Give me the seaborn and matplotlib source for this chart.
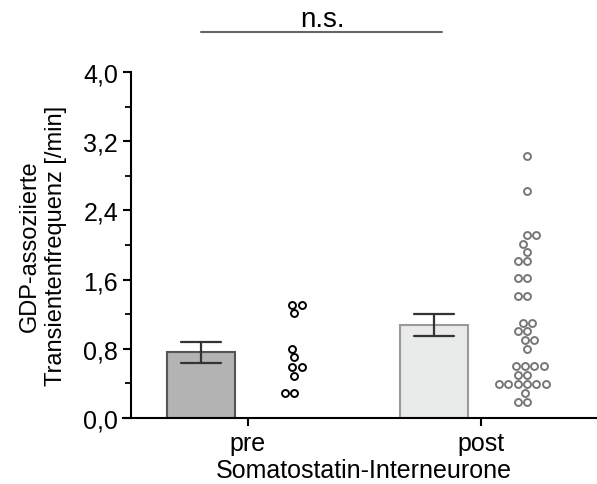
import numpy as np
import pandas as pd
import matplotlib
matplotlib.use('Agg')
import matplotlib.pyplot as plt
import seaborn as sns

# Values
groups = ['pre', 'post']
pre_values = [1.31, 1.21, 1.31, 0.70, 0.80, 0.59, 0.59, 0.49, 0.29, 0.29]
post_values = [3.03, 2.62, 2.11, 2.11, 2.01, 1.92, 1.81, 1.81, 1.62, 1.62,
               1.41, 1.41, 1.10, 1.10, 1.01, 1.01, 0.90, 0.90, 0.80,
               0.60, 0.60, 0.60, 0.60, 0.50, 0.50,
               0.39, 0.39, 0.39, 0.39, 0.39, 0.39, 0.19, 0.19, 0.29]
bar_fill = {'pre': '#b3b3b3', 'post': '#e9eaea'}
bar_edge = {'pre': '#555555', 'post': '#9a9a9a'}
dot_edge = {'pre': '#000000', 'post': '#777777'}
yticks = [0.0, 0.8, 1.6, 2.4, 3.2, 4.0]

df = pd.DataFrame({
    'group': ['pre'] * len(pre_values) + ['post'] * len(post_values),
    'value': pre_values + post_values,
})
df['pos'] = df['group'].map({g: i for i, g in enumerate(groups)})
df['bar_x'] = df['pos'] - 0.2
df['dot_x'] = df['pos'] + 0.2

sns.set_style('ticks')
plt.rcParams['font.family'] = ['Liberation Sans', 'DejaVu Sans']
plt.rcParams['text.color'] = 'black'
plt.rcParams['axes.labelcolor'] = 'black'
plt.rcParams['xtick.color'] = 'black'
plt.rcParams['ytick.color'] = 'black'

fig = plt.figure(figsize=(5.97, 4.85), dpi=100)
ax = fig.add_axes([0.22, 0.136, 0.78, 0.7135])

for g in groups:
    sub = df[df['group'] == g]
    sns.barplot(data=sub, x='bar_x', y='value', native_scale=True, width=0.29,
                color=bar_fill[g], edgecolor=bar_edge[g], linewidth=1.5,
                saturation=1, errorbar='se', capsize=0.17,
                err_kws={'color': '#333333', 'linewidth': 1.6}, ax=ax)
    sns.swarmplot(data=sub, x='dot_x', y='value', native_scale=True, size=5.0,
                  color='white', edgecolor=dot_edge[g], linewidth=1.4, ax=ax)

ax.set_xlim(-0.5, 1.5)
ax.set_ylim(0, 4.0)
ax.set_xticks(range(len(groups)))
ax.set_xticklabels(groups)
ax.set_yticks(yticks)
ax.set_yticklabels([f'{t:.1f}'.replace('.', ',') for t in yticks])
ax.set_yticks(np.arange(0.4, 4.0, 0.8), minor=True)
ax.tick_params(axis='both', which='major', labelsize=18, length=6, width=1.5)
ax.tick_params(axis='y', which='minor', length=4, width=1.3)
ax.set_xlabel('Somatostatin-Interneurone', fontsize=18, labelpad=2)
ax.set_ylabel('GDP-assoziierte\nTransientenfrequenz [/min]', fontsize=17, labelpad=12)
sns.despine(ax=ax)
for s in ['left', 'bottom']:
    ax.spines[s].set_linewidth(1.5)
    ax.spines[s].set_color('black')
ax.spines['bottom'].set_bounds(-0.535, 1.5)

# significance bracket
ax.plot([-0.2, 0.835], [4.46, 4.46], color='#666666', linewidth=1.5, clip_on=False)
ax.text(0.32, 4.53, 'n.s.', ha='center', va='baseline', fontsize=20)

fig.savefig('out.png', dpi=100)
